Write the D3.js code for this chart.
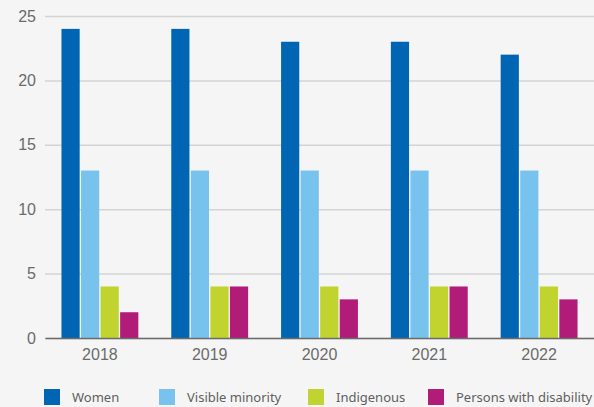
<!DOCTYPE html>
<html>
<head>
<meta charset="utf-8">
<script src="https://cdn.jsdelivr.net/npm/d3@7"></script>
<style>
  body { margin: 0; background: #f4f5f4; overflow: hidden; }
  svg { display: block; font-family: "Noto Sans", sans-serif; }
</style>
</head>
<body>
<script>
// chart data
var years = ["2018", "2019", "2020", "2021", "2022"];
var groups = ["Women", "Visible minority", "Indigenous", "Persons with disability"];
var women = [24, 24, 23, 23, 22];
var visibleMinority = [13, 13, 13, 13, 13];
var indigenous = [4, 4, 4, 4, 4];
var disability = [2, 4, 3, 4, 3];
var yTicks = [0, 5, 10, 15, 20, 25];

var series = [women, visibleMinority, indigenous, disability];

var width = 594;
var height = 407;
var margin = {top: 16, right: 0, bottom: 69, left: 45};

var color = d3.scaleOrdinal()
  .domain(groups)
  .range(["#0066b3", "#78c3ed", "#c1d32f", "#b01c77"]);

var svg = d3.select("body")
  .append("svg")
  .attr("width", width)
  .attr("height", height);

var x0 = d3.scaleBand()
  .domain(years)
  .range([margin.left, width - margin.right])
  .paddingInner(0.3)
  .paddingOuter(0.15);

var x1 = d3.scaleBand()
  .domain(groups)
  .range([0, x0.bandwidth()])
  .paddingInner(0.07);

var y = d3.scaleLinear()
  .domain([0, 25])
  .range([height - margin.bottom, margin.top]);

// gridlines + y labels
var yAxis = svg.append("g")
  .attr("transform", "translate(" + margin.left + ",0)")
  .call(d3.axisLeft(y).tickValues(yTicks).tickSize(-(width - margin.left - margin.right)).tickPadding(9));

yAxis.select(".domain").remove();
yAxis.selectAll(".tick line")
  .attr("stroke", "#d3d4d4")
  .attr("stroke-width", 1.5);
yAxis.selectAll(".tick text")
  .attr("fill", "#6b6b6b")
  .style("font-size", "16px");

// bars
var yearG = svg.append("g")
  .selectAll("g")
  .data(years)
  .enter()
  .append("g")
  .attr("transform", function(d) { return "translate(" + x0(d) + ",0)"; });

yearG.selectAll("rect")
  .data(function(d, i) {
    return groups.map(function(g, j) { return {group: g, value: series[j][i]}; });
  })
  .enter()
  .append("rect")
  .attr("x", function(d) { return x1(d.group); })
  .attr("y", function(d) { return y(d.value); })
  .attr("width", x1.bandwidth())
  .attr("height", function(d) { return y(0) - y(d.value); })
  .attr("fill", function(d) { return color(d.group); });

// baseline + x labels
var xAxis = svg.append("g")
  .attr("transform", "translate(0," + y(0) + ")")
  .call(d3.axisBottom(x0).tickSize(0).tickPadding(11));

xAxis.select(".domain")
  .attr("stroke", "#6b6b6b")
  .attr("stroke-width", 1.5);
xAxis.selectAll(".tick text")
  .attr("fill", "#6b6b6b")
  .style("font-size", "16px");

// legend
var legendX = [44, 159, 308, 428];
var legend = svg.append("g")
  .selectAll("g")
  .data(groups)
  .enter()
  .append("g")
  .attr("transform", function(d, i) { return "translate(" + legendX[i] + ",389)"; });

legend.append("rect")
  .attr("width", 16)
  .attr("height", 16)
  .attr("fill", color);

legend.append("text")
  .attr("x", 28)
  .attr("y", 8)
  .attr("dy", ".35em")
  .attr("fill", "#5f5f5f")
  .style("font-size", "13px")
  .text(function(d) { return d; });
</script>
</body>
</html>
